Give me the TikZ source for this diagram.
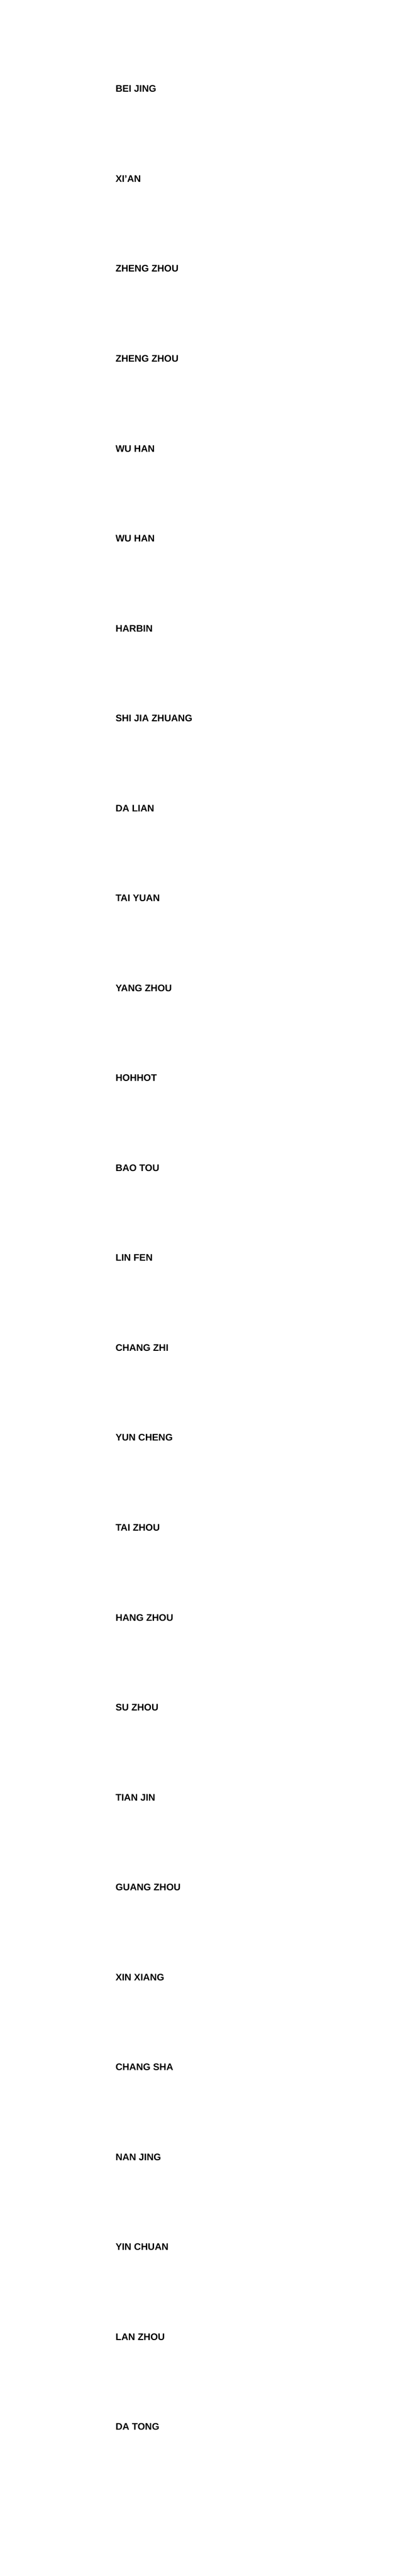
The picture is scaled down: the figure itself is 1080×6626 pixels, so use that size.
\documentclass[tikz,border=0pt]{standalone}
\usepackage{fontspec}
\setmainfont{Liberation Sans}
\begin{document}
\begin{tikzpicture}[x=1pt,y=-1pt,city/.style={anchor=base west,inner sep=0pt,font=\fontsize{24.5}{28}\selectfont\bfseries}]
\useasboundingbox[fill=white] (0,0) rectangle (1080,6626);
\foreach \t [count=\i from 0] in {BEI JING,XI'AN,ZHENG ZHOU,ZHENG ZHOU,WU HAN,WU HAN,HARBIN,SHI JIA ZHUANG,DA LIAN,TAI YUAN,YANG ZHOU,HOHHOT,BAO TOU,LIN FEN,CHANG ZHI,YUN CHENG,TAI ZHOU,HANG ZHOU,SU ZHOU,TIAN JIN,GUANG ZHOU,XIN XIANG,CHANG SHA,NAN JING,YIN CHUAN,LAN ZHOU,DA TONG}
  \node[city] (c\i) at (297,{237+231.3*\i}) {\t};
\end{tikzpicture}
\end{document}
